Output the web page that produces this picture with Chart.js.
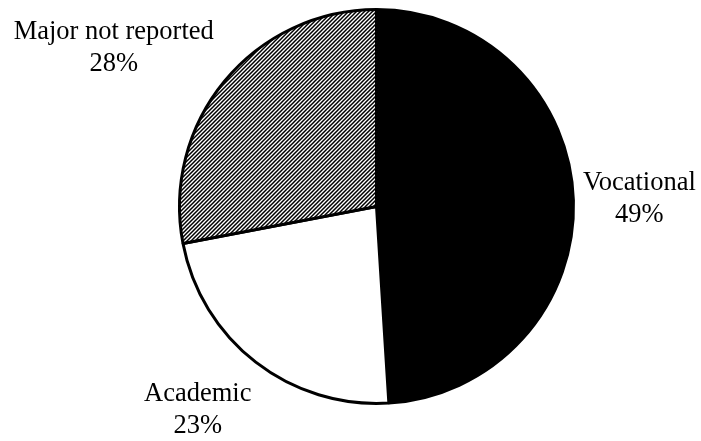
<!DOCTYPE html>
<html>
<head>
<meta charset="utf-8">
<script src="https://cdn.jsdelivr.net/npm/chart.js@4/dist/chart.umd.min.js"></script>
<style>
  html, body { margin: 0; padding: 0; background: #fff; }
  #wrap { width: 701px; height: 441px; }
</style>
</head>
<body>
<div id="wrap"><canvas id="pie-chart" width="701" height="441"></canvas></div>
<script>
const categories = ['Vocational', 'Academic', 'Major not reported'];
const shares = [49, 23, 28];

// diagonal hatch for the last slice
function makeHatch() {
    const tile = document.createElement('canvas');
    tile.width = 4;
    tile.height = 4;
    const c = tile.getContext('2d');
    c.fillStyle = '#fff';
    c.fillRect(0, 0, 4, 4);
    c.strokeStyle = '#000';
    c.lineWidth = 1.5;
    c.beginPath();
    c.moveTo(-1, 1); c.lineTo(1, -1);
    c.moveTo(0, 4); c.lineTo(4, 0);
    c.moveTo(3, 5); c.lineTo(5, 3);
    c.stroke();
    return c.createPattern(tile, 'repeat');
}

const ctx = document.getElementById('pie-chart').getContext('2d');
const fills = ['#000000', '#ffffff', makeHatch()];

// where each label block sits, relative to the rim point at the slice middle
const labelNudge = [[66, -1], [-58, 48], [-111, -33]];

const sliceLabels = {
    id: 'sliceLabels',
    afterDatasetsDraw(chart) {
        const c = chart.ctx;
        const arcs = chart.getDatasetMeta(0).data;
        c.save();
        c.fillStyle = '#000';
        c.font = '26.5px "Liberation Serif", "Times New Roman", serif';
        c.textAlign = 'center';
        c.textBaseline = 'middle';
        arcs.forEach((arc, i) => {
            const p = arc.getProps(['x', 'y', 'startAngle', 'endAngle', 'outerRadius'], true);
            const mid = (p.startAngle + p.endAngle) / 2;
            const ex = p.x + Math.cos(mid) * p.outerRadius;
            const ey = p.y + Math.sin(mid) * p.outerRadius;
            const cx = ex + labelNudge[i][0];
            const cy = ey + labelNudge[i][1];
            c.fillText(categories[i], cx, cy - 16);
            c.fillText(shares[i] + '%', cx, cy + 16);
        });
        c.restore();
    }
};

new Chart(ctx, {
    type: 'pie',
    data: {
        labels: categories,
        datasets: [{
            data: shares,
            backgroundColor: fills,
            borderColor: '#000',
            borderWidth: 3
        }]
    },
    options: {
        responsive: false,
        animation: false,
        devicePixelRatio: 1,
        layout: { padding: { top: 8, bottom: 36, left: 178, right: 126 } },
        plugins: {
            legend: { display: false },
            tooltip: { enabled: false }
        }
    },
    plugins: [sliceLabels]
});
</script>
</body>
</html>
